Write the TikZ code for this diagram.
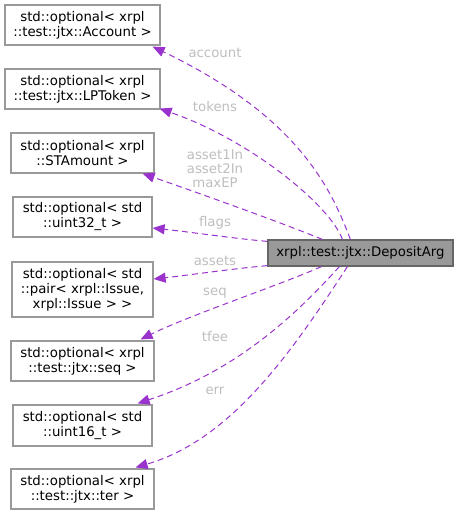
\documentclass[tikz,border=0pt]{standalone}
\usepackage{fontspec}
\setmainfont{DejaVu Sans}
\usetikzlibrary{arrows.meta,calc}
\definecolor{edgec}{HTML}{9A32CD}
\definecolor{labc}{HTML}{BEBEBE}
\definecolor{boxc}{HTML}{999999}
\tikzset{
  cls/.style={draw=boxc, line width=1.2pt, fill=white, align=center, inner sep=0pt, font=\fontsize{13.3}{15}\selectfont},
  mainbox/.style={draw=black!60, line width=1.2pt, fill=boxc, inner sep=0pt, minimum width=185pt, minimum height=26pt, font=\fontsize{13.3}{15}\selectfont},
  edge/.style={draw=edgec, line width=1pt, dash pattern=on 6pt off 4pt, -{Triangle[length=12pt,width=10pt,fill=edgec]}},
  lab/.style={text=labc, font=\fontsize{13.3}{14}\selectfont, align=center, inner sep=0pt}
}
\begin{document}
\begin{tikzpicture}[x=1pt,y=-1pt]
\useasboundingbox (0,0) rectangle (459,515);
\node[cls, minimum width=155pt, minimum height=40pt] (b1) at (82.5,25) {std::optional\textless{} xrpl\\::test::jtx::Account \textgreater{}};
\node[cls, minimum width=155pt, minimum height=40pt] (b2) at (82.5,89) {std::optional\textless{} xrpl\\::test::jtx::LPToken \textgreater{}};
\node[cls, minimum width=143pt, minimum height=40pt] (b3) at (82.5,153) {std::optional\textless{} xrpl\\::STAmount \textgreater{}};
\node[cls, minimum width=139pt, minimum height=40pt] (b4) at (82.5,217) {std::optional\textless{} std\\::uint32\_t \textgreater{}};
\node[cls, minimum width=141pt, minimum height=55pt] (b5) at (82.5,289.5) {std::optional\textless{} std\\::pair\textless{} xrpl::Issue,\\ xrpl::Issue \textgreater{} \textgreater{}};
\node[cls, minimum width=143pt, minimum height=40pt] (b6) at (82.5,361) {std::optional\textless{} xrpl\\::test::jtx::seq \textgreater{}};
\node[cls, minimum width=139pt, minimum height=41pt] (b7) at (82.5,425.5) {std::optional\textless{} std\\::uint16\_t \textgreater{}};
\node[cls, minimum width=143pt, minimum height=40pt] (b8) at (82.5,489) {std::optional\textless{} xrpl\\::test::jtx::ter \textgreater{}};
\node[mainbox] (m) at (360.5,253) {xrpl::test::jtx::DepositArg};

\draw[edge] ($(m.north west)+(83,0)$) .. controls (330,185) and (295,115) .. ($(b1.south east)+(-8,1)$);
\draw[edge] ($(m.north west)+(75,0)$) .. controls (330,205) and (250,140) .. ($(b2.south east)+(-1,-1)$);
\draw[edge] ($(m.north west)+(55,0)$) .. controls (280,222) and (190,190) .. ($(b3.south east)+(-12,0)$);
\draw[edge] ($(m.north west)+(0,2)$) .. controls (230,238) and (190,232) .. ($(b4.east)+(0,11)$);
\draw[edge] ($(m.south west)+(0,-1)$) .. controls (230,269) and (190,275) .. ($(b5.east)+(0,-10.5)$);
\draw[edge] ($(m.south west)+(54,0)$) .. controls (280,285) and (190,315) .. ($(b6.north east)+(-14,-1)$);
\draw[edge] ($(m.south west)+(72,0)$) .. controls (300,310) and (240,370) .. ($(b7.north east)+(-15,-1)$);
\draw[edge] ($(m.south west)+(80,0)$) .. controls (290,355) and (230,440) .. ($(b8.north east)+(-19,-1)$);

\node[lab] (l1) at (215,53) {account};
\node[lab] (l2) at (215,107) {tokens};
\node[lab] (l3) at (215,169) {asset1In\\asset2In\\maxEP};
\node[lab] (l4) at (215,223) {flags};
\node[lab] (l5) at (215,261) {assets};
\node[lab] (l6) at (215,293) {seq};
\node[lab] (l7) at (215,337) {tfee};
\node[lab] (l8) at (215,391) {err};
\end{tikzpicture}
\end{document}
